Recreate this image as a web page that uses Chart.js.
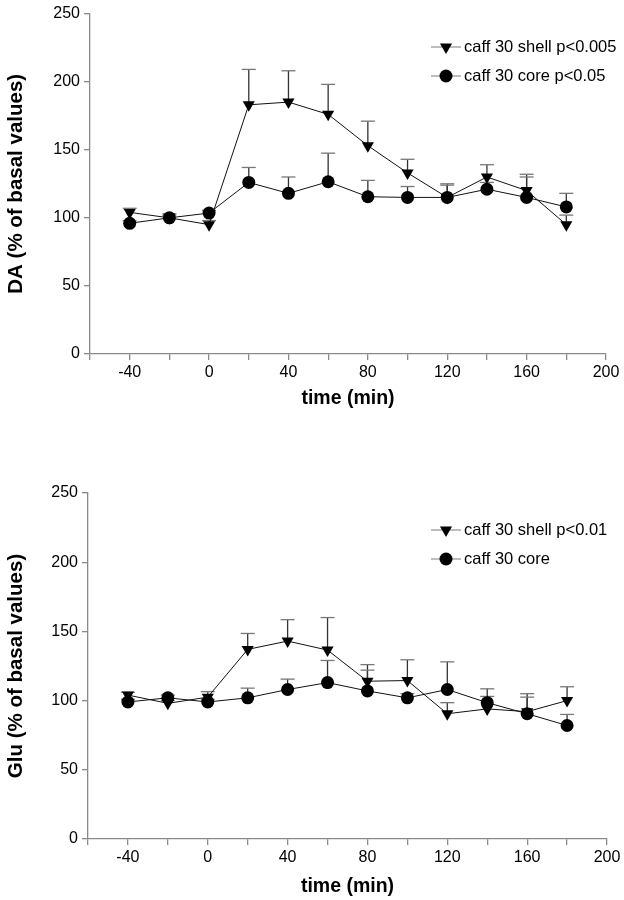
<!DOCTYPE html>
<html>
<head>
<meta charset="utf-8">
<title>Caffeine DA / Glu</title>
<script src="https://cdn.jsdelivr.net/npm/chart.js@4.4.0/dist/chart.umd.min.js"></script>
<style>
    html, body { margin: 0; padding: 0; background: #fff; }
    #wrap { position: relative; width: 624px; height: 900px; }
    .box { position: absolute; left: 0; width: 624px; }
</style>
</head>
<body>
<div id="wrap">
    <div class="box" style="top:0;height:420px"><canvas id="daChart"></canvas></div>
    <div class="box" style="top:430px;height:470px"><canvas id="gluChart"></canvas></div>
</div>
<script>
// ===== DATA =====
const timePoints = [-40, -20, 0, 20, 40, 60, 80, 100, 120, 140, 160, 180];
const xMin = -60, xMax = 200, xStep = 20;
const yMin = 0, yMax = 250, yStep = 50;

// DA panel
const daShellLabel = 'caff 30 shell p<0.005';
const daShell      = [104, 100, 95, 183, 185, 176, 153, 133, 115, 130, 120, 95];
const daShellSem   = [3, 3, 3, 26, 23, 22, 18, 10, 10, 9, 12, 7];
const daCoreLabel  = 'caff 30 core p<0.05';
const daCore       = [96, 100, 103.5, 126, 118, 126.5, 115.5, 115, 115, 121, 115, 108];
const daCoreSem    = [2, 2, 2, 11, 12, 21, 12, 8, 9, 5, 15, 10];

// Glu panel
const gluShellLabel = 'caff 30 shell p<0.01';
const gluShell      = [104, 98, 102.5, 137, 143, 136.5, 114, 114.5, 90.5, 94, 92, 100];
const gluShellSem   = [2, 2, 4, 11.5, 15.5, 23.5, 12, 15, 8, 9, 13, 10];
const gluCoreLabel  = 'caff 30 core';
const gluCore       = [99, 102, 99, 102, 108, 113, 107, 102, 108, 98.5, 90.5, 82];
const gluCoreSem    = [2, 2, 2, 7, 7.5, 16, 15, 3, 20, 10, 12, 8];

const FONT = "'Liberation Sans', Arial, sans-serif";
const AXIS_GREY = '#8a8a8a';

// ===== PLUGINS =====
// upward-only error bars with a cap, drawn under the markers
const errorBarPlugin = {
    id: 'errorBars',
    beforeDatasetsDraw(chart) {
        const { ctx, scales: { x, y } } = chart;
        chart.data.datasets.forEach(ds => {
            if (!ds.sem) return;
            ctx.save();
            ctx.lineWidth = 1.3;
            ds.data.forEach((p, j) => {
                const px = x.getPixelForValue(p.x);
                const y0 = y.getPixelForValue(p.y);
                const y1 = y.getPixelForValue(p.y + ds.sem[j]);
                // stem
                ctx.strokeStyle = '#333';
                ctx.beginPath();
                ctx.moveTo(px, y0);
                ctx.lineTo(px, y1);
                ctx.stroke();
                // cap
                ctx.strokeStyle = '#777';
                ctx.beginPath();
                ctx.moveTo(px - 7, y1);
                ctx.lineTo(px + 7, y1);
                ctx.stroke();
            });
            ctx.restore();
        });
    }
};

// legend drawn inside the plot, top right
const insideLegendPlugin = {
    id: 'insideLegend',
    afterDraw(chart, args, opts) {
        const ctx = chart.ctx;
        ctx.save();
        chart.data.datasets.forEach((ds, i) => {
            const y = opts.y + i * opts.gap;
            const x0 = opts.x;
            ctx.strokeStyle = '#999';
            ctx.lineWidth = 1.3;
            ctx.beginPath();
            ctx.moveTo(x0, y);
            ctx.lineTo(x0 + 30, y);
            ctx.stroke();
            ctx.fillStyle = '#000';
            Chart.helpers.drawPoint(ctx, {
                pointStyle: ds.pointStyle,
                radius: ds.pointRadius,
                rotation: ds.pointRotation || 0,
                borderWidth: 0
            }, x0 + 15, y);
            ctx.fillStyle = '#000';
            ctx.font = '16.5px ' + FONT;
            ctx.textBaseline = 'middle';
            ctx.textAlign = 'left';
            ctx.fillText(ds.label, x0 + 33, y);
        });
        ctx.restore();
    }
};

// ===== CHART BUILDER =====
function makePanel(id, p) {
    const toPts = arr => timePoints.map((t, i) => ({ x: t, y: arr[i] }));
    return new Chart(document.getElementById(id), {
        type: 'line',
        data: {
            datasets: [{
                label: p.shellLabel,
                data: toPts(p.shell),
                sem: p.shellSem,
                order: 1,
                borderColor: '#111',
                borderWidth: 1,
                backgroundColor: '#000',
                pointStyle: 'triangle',
                pointRotation: 180,
                pointRadius: 7,
                pointBorderWidth: 0,
                pointBackgroundColor: '#000',
                tension: 0
            }, {
                label: p.coreLabel,
                data: toPts(p.core),
                sem: p.coreSem,
                order: 0,
                borderColor: '#111',
                borderWidth: 1,
                backgroundColor: '#000',
                pointStyle: 'circle',
                pointRadius: 6.5,
                pointBorderWidth: 0,
                pointBackgroundColor: '#000',
                tension: 0
            }]
        },
        options: {
            responsive: true,
            maintainAspectRatio: false,
            animation: false,
            events: [],
            layout: { padding: { top: p.padTop, right: p.padRight, bottom: 0, left: 0 } },
            plugins: {
                legend: { display: false },
                tooltip: { enabled: false },
                insideLegend: { x: 431, y: p.legendY, gap: p.legendGap }
            },
            scales: {
                x: {
                    type: 'linear',
                    min: xMin,
                    max: xMax,
                    afterFit: s => { s.height = p.xBoxH; },
                    ticks: {
                        stepSize: xStep,
                        autoSkip: false,
                        maxRotation: 0,
                        padding: 3,
                        color: '#000',
                        font: { family: FONT, size: 16 },
                        callback: v => (v % 40 === 0 ? v : '')
                    },
                    grid: { drawOnChartArea: false, drawTicks: true, tickLength: 6, color: AXIS_GREY, lineWidth: 1.3 },
                    border: { color: AXIS_GREY, width: 1.3 },
                    title: {
                        display: true,
                        text: 'time (min)',
                        color: '#000',
                        font: { family: FONT, size: 19.5, weight: 'bold' },
                        padding: { top: 0, bottom: p.xTitlePad }
                    }
                },
                y: {
                    min: yMin,
                    max: yMax,
                    afterFit: s => { s.width = p.yBoxW; },
                    ticks: {
                        stepSize: yStep,
                        padding: 4,
                        color: '#000',
                        font: { family: FONT, size: 16 }
                    },
                    grid: { drawOnChartArea: false, drawTicks: true, tickLength: 6, color: AXIS_GREY, lineWidth: 1.3 },
                    border: { color: AXIS_GREY, width: 1.3 },
                    title: {
                        display: true,
                        text: p.yTitle,
                        color: '#000',
                        font: { family: FONT, size: 20.5, weight: 'bold' },
                        padding: { top: 4, bottom: 0 }
                    }
                }
            }
        },
        plugins: [errorBarPlugin, insideLegendPlugin]
    });
}

makePanel('daChart', {
    yTitle: 'DA (% of basal values)',
    shellLabel: daShellLabel, shell: daShell, shellSem: daShellSem,
    coreLabel: daCoreLabel, core: daCore, coreSem: daCoreSem,
    padTop: 12, padRight: 18, xBoxH: 66, xTitlePad: 10, yBoxW: 90,
    legendY: 47, legendGap: 29
});

makePanel('gluChart', {
    yTitle: 'Glu (% of basal values)',
    shellLabel: gluShellLabel, shell: gluShell, shellSem: gluShellSem,
    coreLabel: gluCoreLabel, core: gluCore, coreSem: gluCoreSem,
    padTop: 63, padRight: 17, xBoxH: 61, xTitlePad: 2, yBoxW: 88,
    legendY: 100, legendGap: 29
});
</script>
</body>
</html>
